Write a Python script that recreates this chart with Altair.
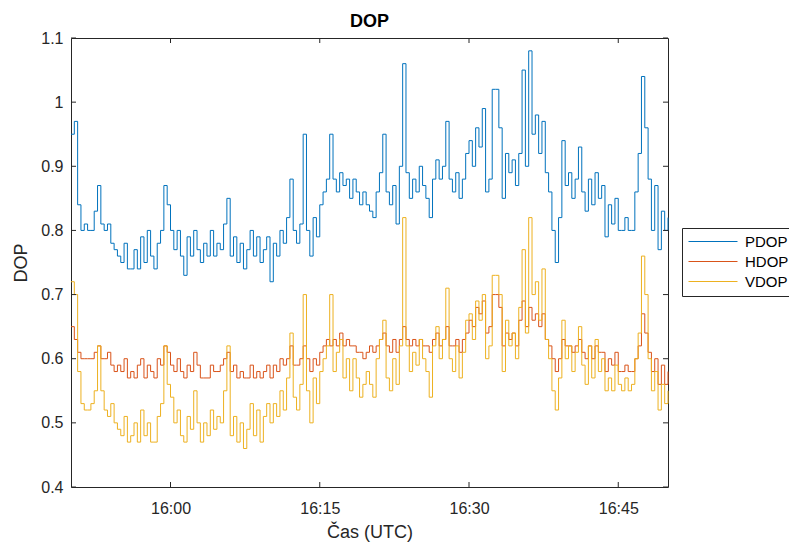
import altair as alt
import pandas as pd

# time: minutes after 15:50, every 20 s (1/3 min)
PDOP = [
    0.95, 0.97, 0.84, 0.80, 0.81, 0.80, 0.80, 0.83, 0.87, 0.81, 0.80, 0.81, 0.78, 0.77, 0.76,
    0.75, 0.78, 0.74, 0.74, 0.77, 0.74, 0.79, 0.75, 0.80, 0.76, 0.74, 0.78, 0.80, 0.87, 0.84,
    0.80, 0.77, 0.80, 0.76, 0.73, 0.79, 0.76, 0.80, 0.77, 0.75, 0.78, 0.76, 0.80, 0.76, 0.78,
    0.77, 0.81, 0.85, 0.76, 0.79, 0.75, 0.78, 0.74, 0.77, 0.80, 0.76, 0.79, 0.75, 0.77, 0.79,
    0.72, 0.78, 0.76, 0.80, 0.78, 0.82, 0.88, 0.80, 0.78, 0.81, 0.95, 0.80, 0.76, 0.82, 0.79,
    0.84, 0.86, 0.88, 0.95, 0.88, 0.86, 0.89, 0.87, 0.88, 0.85, 0.88, 0.86, 0.84, 0.86, 0.84,
    0.83, 0.82, 0.86, 0.89, 0.95, 0.86, 0.84, 0.87, 0.81, 0.90, 1.06, 0.89, 0.85, 0.88, 0.86,
    0.90, 0.87, 0.85, 0.82, 0.88, 0.91, 0.88, 0.90, 0.97, 0.88, 0.86, 0.89, 0.85, 0.88, 0.92,
    0.94, 0.90, 0.96, 0.93, 0.99, 0.86, 0.88, 1.02, 1.02, 0.96, 0.85, 0.92, 0.89, 0.91, 0.87,
    0.92, 1.05, 0.90, 1.08, 0.95, 0.98, 0.92, 0.97, 0.89, 0.86, 0.80, 0.75, 0.82, 0.94, 0.87,
    0.89, 0.85, 0.88, 0.93, 0.86, 0.83, 0.88, 0.84, 0.89, 0.85, 0.87, 0.79, 0.84, 0.81, 0.85,
    0.80, 0.80, 0.82, 0.80, 0.80, 0.86, 0.92, 1.04, 0.96, 0.88, 0.80, 0.87, 0.77, 0.83, 0.80,
    0.82,
]
HDOP = [
    0.65, 0.63, 0.61, 0.60, 0.60, 0.60, 0.60, 0.61, 0.62, 0.60, 0.60, 0.61, 0.59, 0.58, 0.59,
    0.58, 0.60, 0.57, 0.58, 0.57, 0.59, 0.60, 0.57, 0.59, 0.58, 0.57, 0.60, 0.59, 0.62, 0.61,
    0.59, 0.58, 0.60, 0.58, 0.57, 0.59, 0.58, 0.61, 0.59, 0.57, 0.57, 0.57, 0.59, 0.58, 0.58,
    0.59, 0.60, 0.61, 0.58, 0.59, 0.57, 0.58, 0.57, 0.57, 0.59, 0.57, 0.58, 0.57, 0.58, 0.59,
    0.57, 0.59, 0.58, 0.60, 0.59, 0.60, 0.62, 0.59, 0.59, 0.60, 0.62, 0.60, 0.58, 0.60, 0.59,
    0.61, 0.62, 0.63, 0.62, 0.63, 0.62, 0.64, 0.62, 0.63, 0.62, 0.62, 0.61, 0.61, 0.60, 0.61,
    0.62, 0.61, 0.62, 0.63, 0.64, 0.62, 0.61, 0.63, 0.61, 0.63, 0.65, 0.63, 0.62, 0.63, 0.62,
    0.63, 0.62, 0.62, 0.61, 0.63, 0.64, 0.62, 0.63, 0.65, 0.62, 0.62, 0.63, 0.61, 0.63, 0.64,
    0.66, 0.65, 0.68, 0.67, 0.69, 0.64, 0.65, 0.70, 0.70, 0.68, 0.62, 0.64, 0.63, 0.64, 0.62,
    0.66, 0.69, 0.65, 0.68, 0.66, 0.67, 0.65, 0.67, 0.63, 0.62, 0.60, 0.58, 0.60, 0.63, 0.62,
    0.62, 0.61, 0.62, 0.63, 0.61, 0.60, 0.62, 0.60, 0.62, 0.61, 0.61, 0.58, 0.60, 0.59, 0.61,
    0.58, 0.58, 0.59, 0.58, 0.58, 0.60, 0.62, 0.67, 0.64, 0.61, 0.58, 0.60, 0.56, 0.59, 0.56,
    0.58,
]
VDOP = [
    0.72, 0.70, 0.58, 0.53, 0.52, 0.52, 0.53, 0.55, 0.62, 0.55, 0.52, 0.51, 0.53, 0.50, 0.49,
    0.48, 0.51, 0.47, 0.48, 0.50, 0.47, 0.52, 0.48, 0.50, 0.47, 0.47, 0.51, 0.53, 0.62, 0.56,
    0.54, 0.50, 0.52, 0.48, 0.47, 0.51, 0.49, 0.55, 0.50, 0.47, 0.50, 0.48, 0.52, 0.49, 0.51,
    0.50, 0.55, 0.62, 0.48, 0.51, 0.47, 0.50, 0.46, 0.49, 0.53, 0.48, 0.52, 0.47, 0.51, 0.53,
    0.50, 0.53, 0.51, 0.55, 0.52, 0.57, 0.64, 0.54, 0.52, 0.56, 0.70, 0.55, 0.50, 0.57, 0.53,
    0.58, 0.60, 0.62, 0.70, 0.58, 0.61, 0.63, 0.57, 0.60, 0.55, 0.60, 0.57, 0.54, 0.56, 0.58,
    0.56, 0.54, 0.60, 0.63, 0.66, 0.57, 0.55, 0.60, 0.56, 0.62, 0.82, 0.62, 0.58, 0.61, 0.59,
    0.63, 0.60, 0.58, 0.54, 0.62, 0.65, 0.60, 0.63, 0.71, 0.60, 0.58, 0.62, 0.57, 0.61, 0.66,
    0.67, 0.63, 0.69, 0.66, 0.70, 0.60, 0.62, 0.73, 0.73, 0.70, 0.58, 0.66, 0.62, 0.64, 0.60,
    0.68, 0.77, 0.64, 0.82, 0.70, 0.72, 0.66, 0.74, 0.63, 0.60, 0.55, 0.52, 0.57, 0.66, 0.60,
    0.62, 0.58, 0.61, 0.65, 0.59, 0.56, 0.62, 0.57, 0.63, 0.58, 0.60, 0.55, 0.57, 0.55, 0.59,
    0.56, 0.55, 0.57, 0.55, 0.56, 0.60, 0.64, 0.76, 0.70, 0.60, 0.55, 0.58, 0.52, 0.56, 0.53,
    0.55,
]
SERIES = ["PDOP", "HDOP", "VDOP"]
COLORS = ["#0072BD", "#D95319", "#EDB120"]
START_MIN = 950  # 15:50 in minutes after midnight
X_TICKS = [960, 975, 990, 1005]
Y_TICKS = [0.4, 0.5, 0.6, 0.7, 0.8, 0.9, 1.0, 1.1]

rows = []
for name, vals in zip(SERIES, [PDOP, HDOP, VDOP]):
    for i, v in enumerate(vals):
        rows.append({"t": START_MIN + i / 3.0, "value": v, "series": name})
df = pd.DataFrame(rows)

W, H = 597, 449
FONT = "Liberation Sans"
INK = "#262626"

xscale = alt.Scale(domain=[950, 1010], nice=False, zero=False)
yscale = alt.Scale(domain=[0.4, 1.1], nice=False, zero=False)

label_expr = "floor(datum.value/60) + ':' + (datum.value%60 < 10 ? '0' : '') + (datum.value%60)"

lines = alt.Chart(df).mark_line(interpolate="step-after", strokeWidth=1).encode(
    x=alt.X("t:Q", scale=xscale,
            axis=alt.Axis(values=X_TICKS, labelExpr=label_expr, title="Čas (UTC)",
                          ticks=False, tickSize=0, domain=False, grid=False,
                          labelBaseline="alphabetic", labelPadding=26,
                          titleX=W / 2, titleY=50, titleBaseline="alphabetic")),
    y=alt.Y("value:Q", scale=yscale,
            axis=alt.Axis(values=Y_TICKS, format="~g", title="DOP", ticks=False, tickSize=0,
                          domain=False, grid=False, labelPadding=8,
                          titleX=-45, titleY=H / 2, titleBaseline="alphabetic")),
    color=alt.Color("series:N", scale=alt.Scale(domain=SERIES, range=COLORS),
                    sort=SERIES,
                    legend=alt.Legend(title=None, orient="none", legendX=611, legendY=190,
                                      symbolType="stroke", symbolSize=2401,
                                      symbolStrokeWidth=1, clipHeight=15,
                                      labelOffset=7,
                                      padding=6, strokeColor=INK, fillColor="white",
                                      labelFontSize=15, labelFont=FONT, labelColor="#000000",
                                      rowPadding=4)),
    detail="series:N",
)

xt = pd.DataFrame({"v": X_TICKS})
yt = pd.DataFrame({"v": Y_TICKS})

xb = alt.Chart(xt).mark_rule(color=INK, strokeWidth=1).encode(
    x=alt.X("v:Q", scale=xscale), y=alt.value(H), y2=alt.value(H - 5))
xtp = alt.Chart(xt).mark_rule(color=INK, strokeWidth=1).encode(
    x=alt.X("v:Q", scale=xscale), y=alt.value(0), y2=alt.value(5))
yl = alt.Chart(yt).mark_rule(color=INK, strokeWidth=1).encode(
    y=alt.Y("v:Q", scale=yscale), x=alt.value(0), x2=alt.value(5))
yr = alt.Chart(yt).mark_rule(color=INK, strokeWidth=1).encode(
    y=alt.Y("v:Q", scale=yscale), x=alt.value(W), x2=alt.value(W - 5))

chart = alt.layer(lines, xb, xtp, yl, yr).properties(
    width=W, height=H,
    background="white",
    title=alt.Title("DOP", fontSize=18, font=FONT, fontWeight="bold", color="#000000",
                    anchor="middle", offset=9, dy=10, frame="group"),
    autosize=alt.AutoSizeParams(type="none"),
    padding={"left": 71, "top": 38, "right": 121, "bottom": 55},
).configure_view(
    stroke=INK, strokeWidth=1
).configure_axis(
    labelFont=FONT, labelFontSize=16, labelColor=INK,
    titleFont=FONT, titleFontSize=18, titleColor=INK, titleFontWeight="normal",
)

chart.save("out.html", embed_options={"renderer": "svg", "actions": False})
